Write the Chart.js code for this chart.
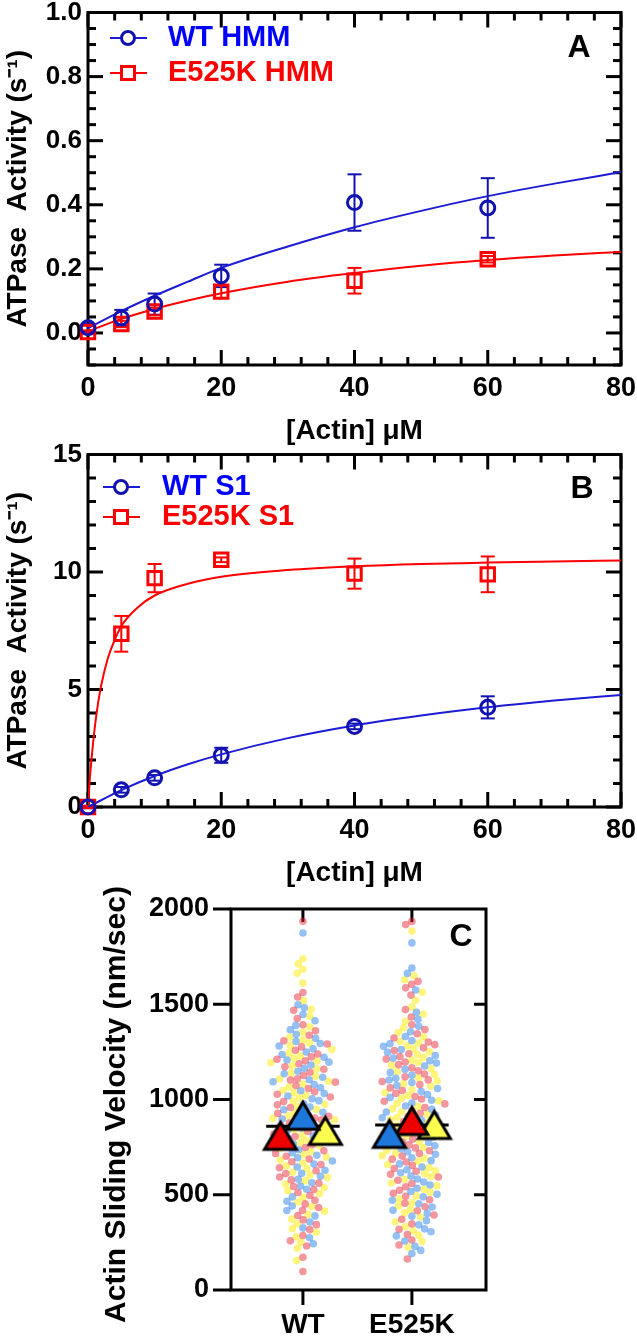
<!DOCTYPE html>
<html>
<head>
<meta charset="utf-8">
<script src="https://cdn.jsdelivr.net/npm/chart.js@4.4.1/dist/chart.umd.min.js"></script>
<style>
html,body{margin:0;padding:0;background:#fff;}
body{width:637px;height:1339px;position:relative;overflow:hidden;}
canvas{position:absolute;left:0;}
</style>
</head>
<body>
<canvas id="cA" width="637" height="450" style="top:0px"></canvas>
<canvas id="cB" width="637" height="450" style="top:442px"></canvas>
<canvas id="cC" width="637" height="479" style="top:860px"></canvas>
<script>
// ================= DATA =================
// Panel A : HMM actin-activated ATPase
const actinUM = [0, 5, 10, 20, 40, 60];
const wtHmmRate = [0.016, 0.047, 0.09, 0.178, 0.407, 0.39];
const wtHmmErr = [0.012, 0.025, 0.033, 0.035, 0.088, 0.093];
const e525kHmmRate = [0.003, 0.028, 0.067, 0.129, 0.163, 0.23];
const e525kHmmErr = [0.005, 0.01, 0.012, 0.02, 0.04, 0.01];
const hmmFitActin = [0, 5, 10, 15, 20, 30, 40, 50, 60, 70, 80];
const wtHmmFit = [0.015, 0.068, 0.116, 0.16, 0.203, 0.27, 0.33, 0.381, 0.427, 0.466, 0.502];
const e525kHmmFit = [0.005, 0.044, 0.075, 0.101, 0.124, 0.16, 0.187, 0.21, 0.228, 0.242, 0.253];

// Panel B : S1 actin-activated ATPase
const wtS1Rate = [0, 0.73, 1.24, 2.2, 3.43, 4.24];
const wtS1Err = [0.05, 0.12, 0.12, 0.32, 0.12, 0.47];
const e525kS1Rate = [0, 7.37, 9.74, 10.52, 9.93, 9.9];
const e525kS1Err = [0.05, 0.76, 0.6, 0.1, 0.64, 0.76];
const wtS1FitActin = [0, 5, 10, 15, 20, 30, 40, 50, 60, 70, 80];
const wtS1Fit = [0, 0.72, 1.32, 1.82, 2.24, 2.93, 3.47, 3.89, 4.24, 4.53, 4.77];
const e525kS1FitActin = [0, 0.25, 0.5, 1, 1.5, 2, 3, 4, 5, 7.5, 10, 15, 20, 30, 40, 50, 60, 70, 80];
const e525kS1Fit = [0, 1.1, 1.95, 3.35, 4.4, 5.2, 6.35, 7.1, 7.7, 8.5, 9.0, 9.5, 9.8, 10.08, 10.24, 10.34, 10.4, 10.45, 10.49];

// Tick labels
const actinTicks = [0, 20, 40, 60, 80];
const hmmRateTicks = [0, 0.2, 0.4, 0.6, 0.8, 1.0];
const s1RateTicks = [0, 5, 10, 15];
const velocityTicks = [0, 500, 1000, 1500, 2000];
const groups = ['WT', 'E525K'];

// Panel C : in vitro motility, individual filament velocities (nm/sec)
const wtRed = [1936,1562,1538,1468,1425,1392,1361,1337,1308,1291,1276,1258,1239,1224,1211,1203,1188,1172,1159,1143,1126,1109,1102,1091,1073,1058,1041,1027,1013,989,972,958,941,927,912,903,894,876,861,847,832,818,806,791,779,763,748,731,717,702,688,673,659,642,626,611,593,578,561,543,527,512,496,471,452,433,418,391,368,343,317,286,258,231,172,97];
const wtBlue = [1874,1497,1482,1446,1413,1389,1366,1342,1321,1305,1294,1281,1266,1249,1236,1222,1207,1196,1181,1164,1148,1135,1117,1104,1093,1079,1062,1046,1031,1018,1004,994,978,961,946,933,917,906,897,881,866,851,837,823,809,796,782,768,751,736,721,707,694,677,661,646,629,613,597,581,563,546,529,489,466,441,417,389,357,326,274,243];
const wtYellow = [1739,1712,1684,1663,1611,1519,1474,1437,1381,1353,1327,1312,1297,1284,1263,1244,1229,1216,1202,1193,1177,1161,1139,1122,1108,1096,1081,1066,1048,1035,1021,1007,992,975,963,948,929,915,901,893,878,864,843,828,813,802,787,774,758,744,726,711,697,683,667,651,637,618,604,591,574,556,538,521,506,487,462,438,414,396,372,348,322,303,279,251,219,155];
const e525kBlue = [1822,1690,1662,1575,1458,1421,1384,1356,1331,1309,1293,1279,1262,1248,1231,1217,1203,1191,1176,1158,1142,1127,1111,1102,1089,1073,1058,1042,1026,1011,996,981,966,949,934,918,904,892,877,861,846,831,817,803,789,774,757,741,726,712,694,679,662,646,631,615,598,583,567,551,534,517,503,489,471,453,436,418,402,387,364,342,321,306,284,257,229,208,191];
const e525kRed = [1935,1918,1620,1605,1586,1548,1472,1433,1392,1367,1345,1323,1302,1288,1271,1257,1240,1226,1212,1197,1183,1166,1151,1134,1119,1103,1094,1078,1061,1047,1032,1016,1003,991,977,958,942,928,911,896,883,867,852,836,821,805,793,777,762,746,731,716,703,687,672,654,638,623,607,593,576,559,542,524,508,492,474,455,437,416,394,371,347,318,291,262,236,163];
const e525kYellow = [1884,1650,1628,1563,1521,1486,1449,1411,1376,1352,1328,1306,1296,1282,1267,1251,1236,1221,1206,1194,1179,1163,1147,1131,1114,1097,1083,1069,1052,1037,1021,1006,993,979,963,951,936,921,907,894,879,863,849,834,819,808,792,778,761,748,733,719,705,691,676,659,643,626,612,596,581,562,547,529,513,494,478,459,441,423,405,383,358,333,311,287,255,224];
// Replicate means (triangles) and overall means (black bars)
const wtMeanColors = ['red', 'blue', 'yellow'];
const wtMeans = [812, 917, 838];
const e525kMeanColors = ['blue', 'red', 'yellow'];
const e525kMeans = [822, 890, 869];
const overallMeans = [860, 866];

// ================= STYLE =================
const FONT = '"Liberation Sans", Arial, Helvetica, sans-serif';
const BLUE_MARK = '#1212b0';
const BLUE_LINE = '#1c1cd4';
const BLUE_TEXT = '#0000ff';
const RED = '#ff0000';

// frame + inward ticks + error bars + legend
const kineticDecor = {
  id: 'kineticDecor',
  beforeDatasetsDraw(chart, args, o) {
    const {ctx, chartArea: a, scales: {x, y}} = chart;
    ctx.save();
    ctx.strokeStyle = '#000';
    ctx.lineCap = 'butt';
    const line = (x1, y1, x2, y2, w) => { ctx.lineWidth = w; ctx.beginPath(); ctx.moveTo(x1, y1); ctx.lineTo(x2, y2); ctx.stroke(); };
    for (let k = 0; ; k++) {
      const v = x.min + k * o.xMinor;
      if (v > x.max + 1e-9) break;
      const px = x.getPixelForValue(v);
      const major = o.xMajor.some(m => Math.abs(m - v) < 1e-9);
      const L = major ? 15 : 8;
      line(px, a.bottom, px, a.bottom - L, 3);
      line(px, a.top, px, a.top + L, 3);
    }
    for (let k = 0; ; k++) {
      const v = y.min + k * o.yMinor;
      if (v > y.max + 1e-9) break;
      const py = y.getPixelForValue(v);
      const major = o.yMajor.some(m => Math.abs(m - v) < 1e-9);
      const L = major ? 15 : 8;
      line(a.left, py, a.left + L, py, 3);
      line(a.right, py, a.right - L, py, 3);
    }
    ctx.lineWidth = 3;
    ctx.strokeRect(a.left, a.top, a.right - a.left, a.bottom - a.top);
    chart.data.datasets.forEach(ds => {
      if (!ds.errorBars) return;
      ctx.strokeStyle = ds.borderColor;
      ds.data.forEach((p, i) => {
        const e = ds.errorBars[i];
        const px = x.getPixelForValue(p.x);
        const yt = y.getPixelForValue(p.y + e), yb = y.getPixelForValue(p.y - e);
        line(px, yt, px, yb, 2);
        line(px - 7, yt, px + 7, yt, 2);
        line(px - 7, yb, px + 7, yb, 2);
      });
    });
    ctx.restore();
  },
  afterDraw(chart, args, o) {
    const ctx = chart.ctx;
    ctx.save();
    (o.items || []).forEach(it => {
      ctx.strokeStyle = it.lineColor; ctx.lineWidth = 2;
      ctx.beginPath(); ctx.moveTo(o.lineX0, it.y); ctx.lineTo(o.lineX1, it.y); ctx.stroke();
      ctx.strokeStyle = it.markColor; ctx.lineWidth = 3;
      ctx.fillStyle = '#fff';
      ctx.beginPath();
      if (it.shape === 'circle') ctx.arc(o.markX, it.y, 6.5, 0, Math.PI * 2);
      else ctx.rect(o.markX - 6.5, it.y - 6.5, 13, 13);
      ctx.fill(); ctx.stroke();
      ctx.fillStyle = it.textColor;
      ctx.font = 'bold 29px ' + FONT;
      ctx.textBaseline = 'middle'; ctx.textAlign = 'left';
      ctx.fillText(it.text, o.textX, it.y);
    });
    if (o.letter) {
      ctx.fillStyle = '#000';
      ctx.font = 'bold 32px ' + FONT;
      ctx.textAlign = 'center'; ctx.textBaseline = 'middle';
      ctx.fillText(o.letter.text, o.letter.x, o.letter.y);
    }
    ctx.restore();
  }
};

function pts(xs, ys) { return xs.map((x, i) => ({x: x, y: ys[i]})); }

function kineticChart(id, cfg) {
  return new Chart(document.getElementById(id), {
    type: 'scatter',
    data: {
      datasets: [
        {label: cfg.wtLabel, data: pts(actinUM, cfg.wtRate), errorBars: cfg.wtErr, pointStyle: 'circle', pointRadius: 7,
         borderColor: BLUE_MARK, backgroundColor: 'rgba(255,255,255,0)', borderWidth: 3, showLine: false, clip: false, order: 0},
        {label: cfg.mutLabel, data: pts(actinUM, cfg.mutRate), errorBars: cfg.mutErr, pointStyle: 'rect', pointRadius: 9.5,
         borderColor: RED, backgroundColor: 'rgba(255,255,255,0)', borderWidth: 3, showLine: false, clip: false, order: 0},
        {label: 'wt fit', data: pts(cfg.wtFitX, cfg.wtFit), showLine: true, pointRadius: 0, borderColor: BLUE_LINE,
         borderWidth: 2, cubicInterpolationMode: 'monotone', order: 1},
        {label: 'mut fit', data: pts(cfg.mutFitX, cfg.mutFit), showLine: true, pointRadius: 0, borderColor: RED,
         borderWidth: 2, cubicInterpolationMode: 'monotone', order: 1}
      ]
    },
    options: {
      responsive: false, animation: false, devicePixelRatio: 1, events: [],
      layout: {padding: {top: 12, right: 16, bottom: 0, left: 0}},
      plugins: {
        legend: {display: false}, tooltip: {enabled: false},
        kineticDecor: {
          xMajor: actinTicks, xMinor: 4, yMajor: cfg.yTicks, yMinor: cfg.yMinor,
          items: [
            {text: cfg.wtLabel, y: cfg.legendY[0], shape: 'circle', lineColor: BLUE_LINE, markColor: BLUE_MARK, textColor: BLUE_TEXT},
            {text: cfg.mutLabel, y: cfg.legendY[1], shape: 'rect', lineColor: RED, markColor: RED, textColor: RED}
          ],
          lineX0: cfg.legendX[0], lineX1: cfg.legendX[1], markX: cfg.legendX[2], textX: cfg.legendX[3],
          letter: cfg.letter
        }
      },
      scales: {
        x: {
          type: 'linear', min: 0, max: 80,
          grid: {display: false, drawTicks: false}, border: {display: false},
          afterBuildTicks: s => { s.ticks = actinTicks.map(v => ({value: v})); },
          afterFit: s => { s.height = 85; s.paddingLeft = 0; s.paddingRight = 0; },
          ticks: {color: '#000', font: {family: FONT, size: 27, weight: 'bold'}, padding: 7, maxRotation: 0, autoSkip: false},
          title: {display: true, text: '[Actin] μM', color: '#000', font: {family: FONT, size: 28, weight: 'bold'}, padding: {top: 0, bottom: 2}}
        },
        y: {
          type: 'linear', min: cfg.yMin, max: cfg.yMax,
          grid: {display: false, drawTicks: false}, border: {display: false},
          afterBuildTicks: s => { s.ticks = cfg.yTicks.map(v => ({value: v})); },
          afterFit: s => { s.width = 88; s.paddingTop = 0; s.paddingBottom = 0; },
          ticks: {color: '#000', font: {family: FONT, size: 26, weight: 'bold'}, padding: 6,
                  callback: v => cfg.yFmt(v)},
          title: {display: true, text: 'ATPase  Activity (s⁻¹)', color: '#000', font: {family: FONT, size: 28, weight: 'bold'}, padding: {top: 1, bottom: 0}}
        }
      }
    },
    plugins: [kineticDecor]
  });
}

kineticChart('cA', {
  wtLabel: 'WT HMM', mutLabel: 'E525K HMM',
  wtRate: wtHmmRate, wtErr: wtHmmErr, mutRate: e525kHmmRate, mutErr: e525kHmmErr,
  wtFitX: hmmFitActin, wtFit: wtHmmFit, mutFitX: hmmFitActin, mutFit: e525kHmmFit,
  yMin: -0.1, yMax: 1.0, yTicks: hmmRateTicks, yMinor: 0.05, yFmt: v => v.toFixed(1),
  legendY: [38, 73], legendX: [110, 147, 128, 168],
  letter: {text: 'A', x: 579, y: 48}
});
kineticChart('cB', {
  wtLabel: 'WT S1', mutLabel: 'E525K S1',
  wtRate: wtS1Rate, wtErr: wtS1Err, mutRate: e525kS1Rate, mutErr: e525kS1Err,
  wtFitX: wtS1FitActin, wtFit: wtS1Fit, mutFitX: e525kS1FitActin, mutFit: e525kS1Fit,
  yMin: 0, yMax: 15, yTicks: s1RateTicks, yMinor: 1, yFmt: v => String(v),
  legendY: [45, 75], legendX: [103, 140, 121, 162],
  letter: {text: 'B', x: 582, y: 47}
});

// ================= PANEL C =================
const dotColors = {red: 'rgba(232,32,48,0.47)', blue: 'rgba(30,122,232,0.47)', yellow: 'rgba(255,236,20,0.55)'};
const triFill = {red: '#ee0000', blue: '#1e78dc', yellow: '#ffff50'};
function triangleImage(fill) {
  const c = document.createElement('canvas'); c.width = 40; c.height = 36;
  const g = c.getContext('2d');
  g.beginPath(); g.moveTo(20, 5); g.lineTo(36, 32); g.lineTo(4, 32); g.closePath();
  g.fillStyle = fill; g.fill();
  g.lineWidth = 3; g.lineJoin = 'miter'; g.strokeStyle = '#000'; g.stroke();
  return c;
}
const swarmSets = [
  {g: 0, c: 'red', vals: wtRed}, {g: 0, c: 'blue', vals: wtBlue}, {g: 0, c: 'yellow', vals: wtYellow},
  {g: 1, c: 'blue', vals: e525kBlue}, {g: 1, c: 'red', vals: e525kRed}, {g: 1, c: 'yellow', vals: e525kYellow}
];
const repOffset = [-0.206, 0, 0.206];
const barHalf = 0.337;
const meanSets = [{g: 0, colors: wtMeanColors, means: wtMeans}, {g: 1, colors: e525kMeanColors, means: e525kMeans}];

const cDatasets = [];
meanSets.forEach(m => m.colors.forEach((col, r) => {
  cDatasets.push({type: 'scatter', data: [{x: m.g + repOffset[r], y: m.means[r]}], pointStyle: triangleImage(triFill[col]),
    pointRadius: 16, showLine: false, clip: false, order: 0});
}));
overallMeans.forEach((v, g) => {
  cDatasets.push({type: 'scatter', data: [{x: g - barHalf, y: v}, {x: g + barHalf, y: v}], showLine: true, pointRadius: 0,
    borderColor: '#000', borderWidth: 3, order: 1});
});
swarmSets.forEach(s => {
  cDatasets.push({type: 'scatter', swarm: true, group: s.g, data: s.vals.map(v => ({x: s.g, y: v})), showLine: false,
    pointRadius: 3.8, borderWidth: 0, backgroundColor: dotColors[s.c], order: 2});
});

const cDecor = {
  id: 'cDecor',
  beforeDatasetsDraw(chart) {
    const {ctx, chartArea: a, scales: {x, y}} = chart;
    ctx.save();
    ctx.strokeStyle = '#000'; ctx.lineWidth = 3; ctx.lineCap = 'butt';
    const line = (x1, y1, x2, y2) => { ctx.beginPath(); ctx.moveTo(x1, y1); ctx.lineTo(x2, y2); ctx.stroke(); };
    velocityTicks.forEach(v => {
      const py = y.getPixelForValue(v);
      line(a.left - 18, py, a.left, py);
      if (v > y.min && v < y.max) line(a.right, py, a.right - 12, py);
    });
    groups.forEach((g, i) => {
      const px = x.getPixelForValue(i);
      line(px, a.bottom, px, a.bottom + 15);
      line(px, a.top, px, a.top + 13);
    });
    ctx.strokeRect(a.left, a.top, a.right - a.left, a.bottom - a.top);
    ctx.restore();
  },
  afterDraw(chart) {
    const {ctx, chartArea: a} = chart;
    ctx.save();
    ctx.fillStyle = '#000'; ctx.font = 'bold 32px ' + FONT; ctx.textAlign = 'center'; ctx.textBaseline = 'middle';
    ctx.fillText('C', 461, a.top + 28);
    // y-axis title (drawn at full length, like the original which runs past the axis)
    ctx.translate(117, (a.top + a.bottom) / 2 + 5);
    ctx.rotate(-Math.PI / 2);
    ctx.font = 'bold 30px ' + FONT;
    ctx.fillText('Actin Sliding Velocity (nm/sec)', 0, 0);
    ctx.restore();
  }
};

const chartC = new Chart(document.getElementById('cC'), {
  type: 'scatter',
  data: {datasets: cDatasets},
  options: {
    responsive: false, animation: false, devicePixelRatio: 1, events: [],
    layout: {padding: {top: 49, right: 151, bottom: 0, left: 0}},
    plugins: {legend: {display: false}, tooltip: {enabled: false}},
    scales: {
      x: {
        type: 'linear', min: -0.66, max: 1.68,
        grid: {display: false, drawTicks: false}, border: {display: false},
        afterBuildTicks: s => { s.ticks = groups.map((g, i) => ({value: i})); },
        afterFit: s => { s.height = 49; s.paddingLeft = 0; s.paddingRight = 0; },
        ticks: {color: '#000', font: {family: FONT, size: 28, weight: 'bold'}, padding: 18, maxRotation: 0, autoSkip: false,
                callback: (v, i) => groups[i]}
      },
      y: {
        type: 'linear', min: 0, max: 2000,
        grid: {display: false, drawTicks: false}, border: {display: false},
        afterBuildTicks: s => { s.ticks = velocityTicks.map(v => ({value: v})); },
        afterFit: s => { s.width = 231; s.paddingTop = 0; s.paddingBottom = 0; },
        ticks: {color: '#000', font: {family: FONT, size: 27, weight: 'bold'}, padding: 22, callback: v => String(v)}
      }
    }
  },
  plugins: [cDecor]
});

// Beeswarm layout of the individual velocities, computed through the chart's own scales
(function layoutSwarm(chart) {
  const xs = chart.scales.x, ys = chart.scales.y;
  const pxPerUnit = xs.getPixelForValue(1) - xs.getPixelForValue(0);
  const D = 7.0;
  groups.forEach((g, gi) => {
    const items = [];
    chart.data.datasets.forEach(ds => {
      if (!ds.swarm || ds.group !== gi) return;
      ds.data.forEach(p => items.push({p: p, py: ys.getPixelForValue(p.y)}));
    });
    items.sort((a, b) => a.py - b.py);
    const placed = [];
    items.forEach(it => {
      const blocks = [];
      placed.forEach(q => {
        const dy = Math.abs(q.py - it.py);
        if (dy < D) { const h = Math.sqrt(D * D - dy * dy); blocks.push([q.px - h, q.px + h]); }
      });
      const cands = [0];
      blocks.forEach(b => { cands.push(b[0], b[1]); });
      cands.sort((a, b) => Math.abs(a) - Math.abs(b));
      let best = 0;
      for (const c of cands) {
        if (blocks.every(b => c <= b[0] + 1e-6 || c >= b[1] - 1e-6)) { best = c; break; }
      }
      it.px = best;
      placed.push(it);
      it.p.x = gi + best / pxPerUnit;
    });
  });
  chart.update('none');
})(chartC);
</script>
</body>
</html>
